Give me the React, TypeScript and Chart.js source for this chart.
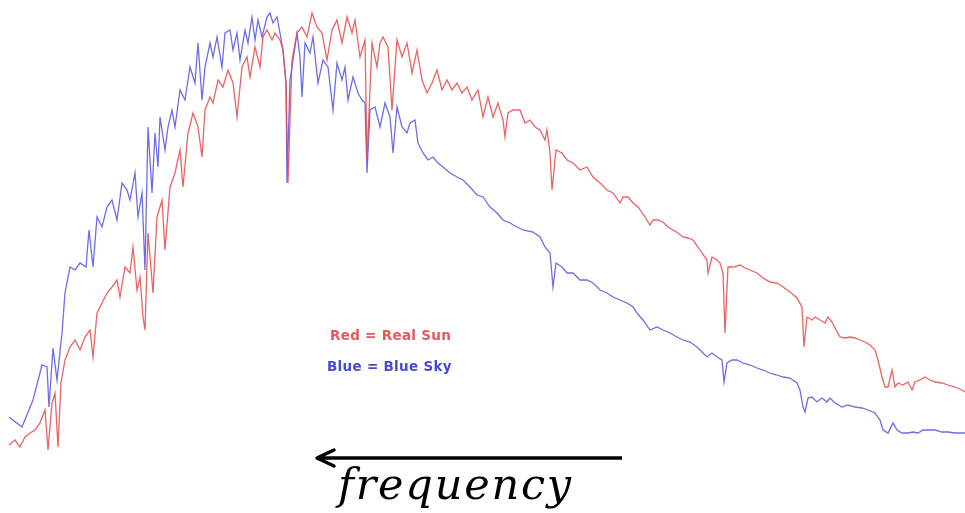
import React, { useEffect, useRef } from "react";
import { Chart, registerables } from "chart.js";

Chart.register(...registerables);

// Wavelength index (increasing to the right; frequency increases to the left)
const sunWavelength = [
  9, 15, 20, 25, 30, 35, 40, 45, 48, 52, 55, 58, 61, 65, 70, 75, 80, 85, 90, 93, 97, 102, 107, 112, 117, 120, 125, 130, 133, 137, 140, 143, 145, 148, 153, 157, 162, 165, 170, 175, 180, 183, 188, 193, 198, 202, 205, 210, 213, 218, 223, 228, 233, 237, 242, 247, 250, 255, 260, 263, 267, 272, 275, 280, 283, 286, 288, 292, 297, 302, 307, 312, 317, 322, 327, 332, 337, 342, 347, 352, 355, 360, 365, 367, 372, 377, 380, 383, 388, 392, 397, 402, 407, 412, 417, 422, 427, 432, 437, 442, 447, 452, 457, 462, 467, 472, 478, 483, 488, 493, 498, 503, 505, 508, 513, 520, 525, 530, 535, 540, 545, 547, 550, 552, 556, 562, 567, 573, 580, 587, 593, 600, 607, 613, 620, 623, 628, 633, 638, 645, 650, 653, 658, 663, 668, 673, 678, 683, 688, 693, 698, 702, 707, 708, 712, 717, 720, 723, 725, 728, 733, 740, 745, 750, 757, 763, 770, 777, 783, 790, 797, 802, 804, 807, 812, 815, 820, 825, 828, 832, 835, 840, 845, 850, 855, 860, 865, 870, 875, 878, 882, 885, 888, 892, 895, 898, 903, 908, 912, 915, 920, 925, 930, 935, 942, 948, 955, 962, 965,
];
const sunIntensity = [
  5, 10, 3, 13, 17, 20, 27, 40, 0, 47, 57, 3, 67, 90, 103, 110, 100, 113, 120, 93, 137, 147, 157, 163, 170, 153, 183, 177, 203, 160, 173, 133, 120, 217, 157, 233, 250, 200, 263, 277, 300, 263, 317, 337, 323, 293, 340, 353, 347, 370, 363, 380, 367, 333, 383, 393, 373, 403, 383, 413, 420, 410, 417, 410, 400, 367, 267, 390, 417, 423, 413, 437, 423, 417, 390, 420, 430, 407, 433, 417, 430, 393, 410, 290, 407, 383, 407, 413, 403, 340, 410, 393, 407, 377, 400, 370, 357, 367, 380, 360, 370, 360, 367, 357, 363, 350, 360, 333, 353, 333, 347, 330, 313, 337, 340, 340, 327, 330, 323, 320, 310, 320, 297, 260, 300, 297, 290, 287, 280, 283, 273, 267, 260, 257, 247, 253, 253, 247, 243, 233, 225, 230, 230, 228, 223, 220, 217, 213, 212, 210, 203, 197, 190, 177, 193, 190, 187, 177, 117, 183, 183, 185, 182, 180, 177, 172, 168, 167, 163, 158, 152, 143, 103, 133, 130, 133, 130, 127, 133, 128, 122, 113, 112, 113, 112, 110, 108, 105, 100, 90, 73, 63, 63, 80, 63, 67, 65, 68, 60, 68, 70, 73, 70, 68, 67, 65, 63, 60, 58,
];

const skyWavelength = [
  9, 22, 33, 42, 47, 49, 53, 57, 62, 65, 70, 75, 80, 86, 89, 93, 97, 102, 107, 112, 117, 122, 127, 130, 135, 138, 142, 145, 148, 152, 155, 158, 160, 165, 168, 172, 175, 180, 185, 190, 195, 198, 202, 205, 210, 213, 217, 222, 225, 230, 233, 237, 240, 245, 248, 252, 255, 258, 262, 267, 270, 273, 277, 280, 283, 286, 287, 290, 293, 297, 300, 302, 305, 310, 313, 318, 323, 328, 333, 337, 342, 345, 348, 353, 358, 362, 365, 367, 370, 375, 380, 385, 390, 393, 397, 402, 407, 410, 415, 418, 423, 428, 433, 438, 443, 450, 457, 463, 470, 477, 483, 490, 497, 503, 510, 517, 523, 533, 540, 545, 550, 553, 556, 562, 567, 573, 580, 587, 593, 600, 607, 613, 620, 627, 633, 637, 643, 650, 657, 663, 670, 677, 683, 690, 697, 702, 707, 712, 717, 722, 724, 727, 732, 737, 743, 750, 757, 763, 770, 777, 783, 790, 797, 800, 803, 805, 808, 812, 817, 822, 827, 830, 835, 842, 848, 855, 862, 868, 875, 880, 883, 888, 893, 897, 902, 908, 913, 918, 923, 928, 935, 942, 948, 955, 965,
];
const skyIntensity = [
  33, 23, 50, 85, 83, 43, 102, 70, 117, 157, 183, 180, 187, 183, 220, 183, 233, 223, 243, 250, 230, 267, 260, 250, 277, 233, 257, 180, 323, 257, 317, 283, 333, 300, 323, 340, 323, 360, 350, 383, 367, 407, 350, 383, 407, 393, 413, 383, 417, 420, 400, 417, 390, 420, 407, 433, 410, 430, 413, 433, 437, 427, 433, 417, 400, 367, 267, 370, 390, 417, 393, 353, 407, 397, 413, 367, 390, 383, 340, 387, 370, 383, 350, 373, 357, 350, 347, 277, 340, 343, 323, 347, 333, 297, 343, 323, 317, 327, 330, 307, 297, 290, 293, 287, 283, 277, 273, 270, 263, 255, 253, 243, 237, 230, 227, 223, 220, 218, 213, 203, 197, 163, 187, 183, 177, 177, 170, 170, 167, 160, 157, 153, 150, 147, 143, 137, 130, 120, 123, 120, 117, 113, 110, 108, 103, 98, 93, 97, 93, 90, 68, 87, 90, 90, 87, 85, 82, 80, 77, 75, 73, 72, 67, 60, 43, 38, 52, 53, 48, 52, 48, 52, 47, 43, 45, 43, 42, 40, 37, 30, 20, 17, 27, 20, 17, 17, 18, 17, 20, 20, 20, 18, 18, 17, 17,
];

const seriesLabels = ["Red = Real Sun", "Blue = Blue Sky"];
const axisLabel = "frequency";

const toPoints = (xs: number[], ys: number[]) => xs.map((x, i) => ({ x, y: ys[i] }));

export default function App() {
  const canvasRef = useRef<HTMLCanvasElement | null>(null);

  useEffect(() => {
    const canvas = canvasRef.current;
    if (!canvas) return;
    const chart = new Chart(canvas, {
      type: "line",
      data: {
        datasets: [
          {
            label: seriesLabels[0],
            data: toPoints(sunWavelength, sunIntensity),
            borderColor: "rgba(232, 72, 72, 0.85)",
            borderWidth: 1.3,
            pointRadius: 0,
            tension: 0,
            fill: false,
          },
          {
            label: seriesLabels[1],
            data: toPoints(skyWavelength, skyIntensity),
            borderColor: "rgba(72, 72, 228, 0.8)",
            borderWidth: 1.3,
            pointRadius: 0,
            tension: 0,
            fill: false,
          },
        ],
      },
      options: {
        animation: false,
        responsive: false,
        maintainAspectRatio: false,
        layout: { padding: { left: 0, right: 0, top: 0, bottom: 63 } },
        plugins: { legend: { display: false }, tooltip: { enabled: false } },
        scales: {
          x: { type: "linear", min: 0, max: 965, display: false },
          y: { type: "linear", min: 0, max: 450, display: false },
        },
      },
    });
    return () => chart.destroy();
  }, []);

  return (
    <div style={{ position: "fixed", left: 0, top: 0, width: 965, height: 513, background: "#fff" }}>
      <canvas ref={canvasRef} width={965} height={513} style={{ position: "absolute", left: 0, top: 0 }} />
      <div
        style={{
          position: "absolute",
          left: 330,
          top: 327,
          font: "bold 13.5px 'DejaVu Sans', Verdana, sans-serif",
          letterSpacing: "0.3px",
          color: "#e4585c",
          whiteSpace: "nowrap",
        }}
      >
        {seriesLabels[0]}
      </div>
      <div
        style={{
          position: "absolute",
          left: 327,
          top: 358,
          font: "bold 13.5px 'DejaVu Sans', Verdana, sans-serif",
          letterSpacing: "0.3px",
          color: "#4a48d0",
          whiteSpace: "nowrap",
        }}
      >
        {seriesLabels[1]}
      </div>
      <svg width={965} height={513} style={{ position: "absolute", left: 0, top: 0, pointerEvents: "none" }}>
        <line x1={318} y1={458} x2={622} y2={458} stroke="#000" strokeWidth={3.5} />
        <polyline points="334,450 317,458 334,466" fill="none" stroke="#000" strokeWidth={3.5} strokeLinecap="round" strokeLinejoin="round" />
      </svg>
      <div
        style={{
          position: "absolute",
          left: 338,
          top: 461,
          font: "italic 43px 'DejaVu Serif', 'Liberation Serif', serif",
          letterSpacing: "1.8px",
          color: "#000",
          whiteSpace: "nowrap",
          lineHeight: "46px",
        }}
      >
        {axisLabel}
      </div>
    </div>
  );
}
